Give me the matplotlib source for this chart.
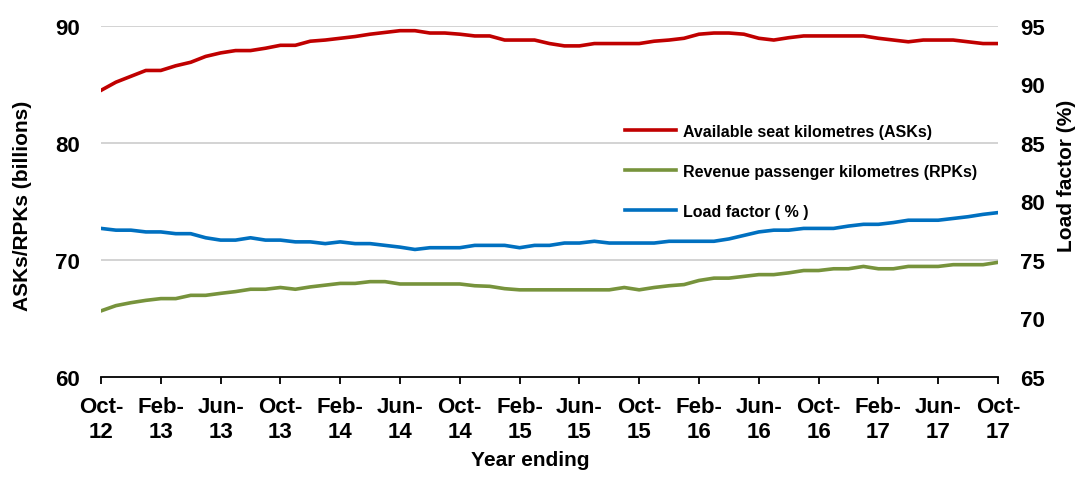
import matplotlib.pyplot as plt

plt.rcParams['font.family'] = ['Liberation Sans', 'DejaVu Sans']
plt.rcParams['font.weight'] = 'bold'

# monthly, Oct-12 .. Oct-17 (61 points)
asks = [84.5, 85.2, 85.7, 86.2, 86.2, 86.6, 86.9, 87.4, 87.7, 87.9,
        87.9, 88.1, 88.35, 88.35, 88.7, 88.8, 88.95, 89.1, 89.3, 89.45,
        89.6, 89.6, 89.4, 89.4, 89.3, 89.15, 89.15, 88.8, 88.8, 88.8,
        88.5, 88.3, 88.3, 88.5, 88.5, 88.5, 88.5, 88.7, 88.8, 88.95,
        89.3, 89.4, 89.4, 89.3, 88.95, 88.8, 89.0, 89.15, 89.15, 89.15,
        89.15, 89.15, 88.95, 88.8, 88.65, 88.8, 88.8, 88.8, 88.65, 88.5,
        88.5]
rpks = [65.65, 66.1, 66.35, 66.55, 66.7, 66.7, 66.98, 66.98, 67.15, 67.3,
        67.5, 67.5, 67.65, 67.5, 67.7, 67.85, 68.0, 68.0, 68.15, 68.15,
        67.95, 67.95, 67.95, 67.95, 67.95, 67.8, 67.75, 67.55, 67.45, 67.45,
        67.45, 67.45, 67.45, 67.45, 67.45, 67.65, 67.45, 67.65, 67.8, 67.9,
        68.25, 68.45, 68.45, 68.6, 68.75, 68.75, 68.9, 69.1, 69.1, 69.25,
        69.25, 69.45, 69.25, 69.25, 69.45, 69.45, 69.45, 69.6, 69.6, 69.6,
        69.8]
load_factor = [77.7, 77.55, 77.55, 77.4, 77.4, 77.25, 77.25, 76.9, 76.7, 76.7,
               76.9, 76.7, 76.7, 76.55, 76.55, 76.4, 76.55, 76.4, 76.4, 76.25,
               76.1, 75.9, 76.05, 76.05, 76.05, 76.25, 76.25, 76.25, 76.05, 76.25,
               76.25, 76.45, 76.45, 76.6, 76.45, 76.45, 76.45, 76.45, 76.6, 76.6,
               76.6, 76.6, 76.8, 77.1, 77.4, 77.55, 77.55, 77.7, 77.7, 77.7,
               77.9, 78.05, 78.05, 78.2, 78.4, 78.4, 78.4, 78.55, 78.7, 78.9,
               79.05]
tick_labels = ['Oct-\n12', 'Feb-\n13', 'Jun-\n13', 'Oct-\n13', 'Feb-\n14', 'Jun-\n14',
               'Oct-\n14', 'Feb-\n15', 'Jun-\n15', 'Oct-\n15', 'Feb-\n16', 'Jun-\n16',
               'Oct-\n16', 'Feb-\n17', 'Jun-\n17', 'Oct-\n17']

months = list(range(len(asks)))

fig = plt.figure(figsize=(10.75, 4.81), dpi=100)
ax = fig.add_axes([101 / 1075, 1 - 378 / 481, 897 / 1075, 351 / 481])
ax2 = ax.twinx()

ax.plot(months, asks, color='#C00000', lw=2.6, label='Available seat kilometres (ASKs)',
        solid_joinstyle='round', zorder=3)
ax.plot(months, rpks, color='#77933C', lw=2.6, label='Revenue passenger kilometres (RPKs)',
        solid_joinstyle='round', zorder=3)
ax2.plot(months, load_factor, color='#0070C0', lw=2.6, label='Load factor ( % )',
         solid_joinstyle='round', zorder=3)

ax.set_xlim(0, 60)
ax.set_ylim(60, 90)
ax2.set_ylim(65, 95)
ax.set_yticks([60, 70, 80, 90])
ax2.set_yticks([65, 70, 75, 80, 85, 90, 95])
ax.set_xticks(range(0, 61, 4))
ax.set_xticklabels(tick_labels)

for y in [70, 80, 90]:
    ax.axhline(y, color='#C8C8C8', lw=1.1, zorder=1)

for a in (ax, ax2):
    for s in ['top', 'left', 'right']:
        a.spines[s].set_visible(False)
ax2.spines['bottom'].set_visible(False)
ax.spines['bottom'].set_linewidth(1.3)

ax.tick_params(axis='x', direction='out', length=5, width=1.3, pad=9, labelsize=16)
ax.tick_params(axis='y', length=0, pad=15, labelsize=16)
ax2.tick_params(axis='y', length=0, pad=16, labelsize=16)

ax.set_ylabel('ASKs/RPKs (billions)', fontsize=15, fontweight='bold')
ax.yaxis.set_label_coords(-0.077, 0.49)
fig.text(1067 / 1075, 1 - 176 / 481, 'Load factor (%)', rotation=90, fontsize=15,
         fontweight='bold', ha='center', va='center')
fig.text(530 / 1075, 1 - 461 / 481, 'Year ending', fontsize=15, fontweight='bold',
         ha='center', va='center')

h1, l1 = ax.get_legend_handles_labels()
h2, l2 = ax2.get_legend_handles_labels()
ax2.legend(h1 + h2, l1 + l2, loc='upper left', bbox_to_anchor=(625 / 1075, 1 - 125 / 481),
           bbox_transform=fig.transFigure, frameon=False, fontsize=11.5,
           handlelength=3.2, handletextpad=0.45, labelspacing=1.55,
           borderpad=0, borderaxespad=0)

fig.savefig('out.png', dpi=100)
